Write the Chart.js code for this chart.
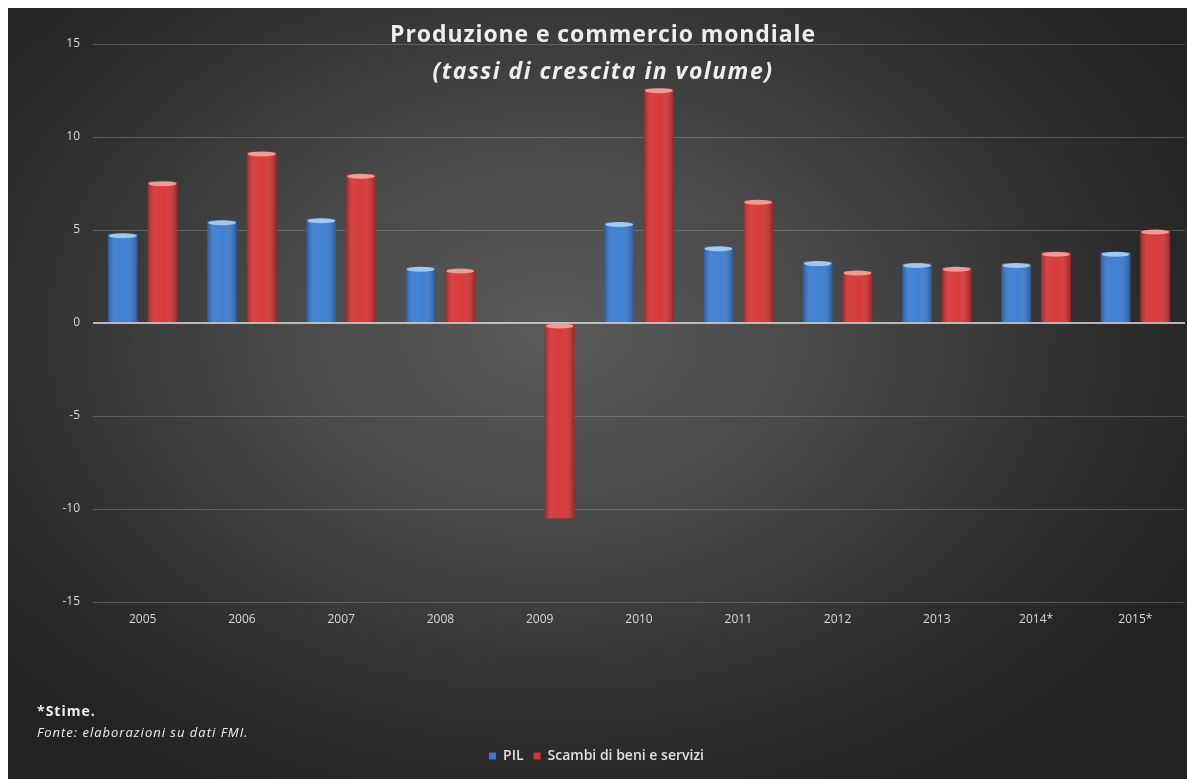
<!DOCTYPE html>
<html lang="it">
<head>
<meta charset="utf-8">
<title>Produzione e commercio mondiale</title>
<script src="https://cdn.jsdelivr.net/npm/chart.js@4"></script>
<style>
    html, body {
        margin: 0;
        padding: 0;
        background: #ffffff;
        width: 1187px;
        height: 779px;
        overflow: hidden;
    }
    #panel {
        position: absolute;
        left: 8px;
        top: 8px;
        width: 1179px;
        height: 771px;
        background: radial-gradient(ellipse 62% 68% at 46% 42%, #5a5a5a 0%, #474747 40%, #2e2e2e 75%, #222222 100%);
    }
    #chart {
        position: absolute;
        left: 0;
        top: 0;
    }
    .title {
        position: absolute;
        left: 0;
        width: 1190px;
        text-align: center;
        color: #eeeeee;
        font-family: "Open Sans", sans-serif;
        font-weight: bold;
        font-size: 23px;
        line-height: 28px;
        letter-spacing: 0.9px;
    }
    .note {
        position: absolute;
        left: 29px;
        color: #eeeeee;
        font-family: "Open Sans", sans-serif;
        font-size: 13px;
        line-height: 16px;
        letter-spacing: 1px;
    }
</style>
</head>
<body>
<div id="panel">
    <canvas id="chart" width="1179" height="771"></canvas>
    <div class="title" style="top: 11px;">Produzione e commercio mondiale</div>
    <div class="title" style="top: 48px; font-style: italic; letter-spacing: 1.5px;">(tassi di crescita in volume)</div>
    <div class="note" style="top: 695px; font-weight: bold; font-size: 14px;">*Stime.</div>
    <div class="note" style="top: 716px; font-style: italic;">Fonte: elaborazioni su dati FMI.</div>
</div>
<script>
// Tassi di crescita annui (%), fonte FMI
const years = ['2005', '2006', '2007', '2008', '2009', '2010', '2011', '2012', '2013', '2014*', '2015*'];
const pil = [4.8, 5.5, 5.6, 3.0, 0.0, 5.4, 4.1, 3.3, 3.2, 3.2, 3.8];
const scambi = [7.6, 9.2, 8.0, 2.9, -10.5, 12.6, 6.6, 2.8, 3.0, 3.8, 5.0];
const yTicks = [-15, -10, -5, 0, 5, 10, 15];

const blue = '#3a7bd0';
const red = '#d63434';
const capColors = { [blue]: '#9ccaf2', [red]: '#f29a94' };

// Shading on the bars: darker sides and a light cap on the top edge
const barShade = {
    id: 'barShade',
    afterDatasetsDraw(chart) {
        const ctx = chart.ctx;
        chart.data.datasets.forEach((ds, i) => {
            const meta = chart.getDatasetMeta(i);
            meta.data.forEach(bar => {
                const { x, y, base, width } = bar.getProps(['x', 'y', 'base', 'width'], true);
                const top = Math.min(y, base);
                const h = Math.abs(base - y);
                if (h < 1) return;
                const left = x - width / 2;

                const g = ctx.createLinearGradient(left, 0, left + width, 0);
                g.addColorStop(0, 'rgba(0,0,0,0.28)');
                g.addColorStop(0.3, 'rgba(255,255,255,0.06)');
                g.addColorStop(0.6, 'rgba(255,255,255,0.04)');
                g.addColorStop(1, 'rgba(0,0,0,0.3)');
                ctx.save();
                ctx.fillStyle = g;
                ctx.fillRect(left, top, width, h);

                ctx.fillStyle = capColors[ds.backgroundColor];
                ctx.beginPath();
                ctx.ellipse(x, top + 2, width / 2 - 1, 2.5, 0, 0, Math.PI * 2);
                ctx.fill();
                ctx.restore();
            });
        });
    }
};

const ctx = document.getElementById('chart').getContext('2d');

new Chart(ctx, {
    type: 'bar',
    data: {
        labels: years,
        datasets: [
            {
                label: 'PIL',
                data: pil,
                backgroundColor: blue,
                borderWidth: 0
            },
            {
                label: 'Scambi di beni e servizi',
                data: scambi,
                backgroundColor: red,
                borderWidth: 0
            }
        ]
    },
    options: {
        responsive: false,
        animation: false,
        layout: {
            padding: { top: 36, right: 2, left: 0, bottom: 6 }
        },
        datasets: {
            bar: {
                categoryPercentage: 0.8,
                barPercentage: 0.75
            }
        },
        scales: {
            x: {
                grid: { display: false },
                border: { display: false },
                ticks: {
                    color: '#d8d8d8',
                    padding: 2,
                    font: { family: 'Open Sans', size: 12 }
                },
                afterFit: scale => { scale.height = 137; }
            },
            y: {
                min: -15,
                max: 15,
                afterBuildTicks: scale => {
                    scale.ticks = yTicks.map(v => ({ value: v }));
                },
                grid: {
                    color: c => c.tick && c.tick.value === 0 ? 'rgba(215,215,215,0.8)' : 'rgba(170,170,170,0.35)',
                    lineWidth: c => c.tick && c.tick.value === 0 ? 2 : 1,
                    tickLength: 3,
                    tickColor: 'rgba(0,0,0,0)'
                },
                border: { display: false },
                ticks: {
                    color: '#d8d8d8',
                    padding: 10,
                    font: { family: 'Open Sans', size: 12 }
                },
                afterFit: scale => { scale.width = 85; }
            }
        },
        plugins: {
            legend: {
                position: 'bottom',
                labels: {
                    color: '#e0e0e0',
                    boxWidth: 7,
                    boxHeight: 7,
                    padding: 10,
                    font: { family: 'Open Sans', size: 14, weight: '600' }
                }
            },
            tooltip: { enabled: false }
        }
    },
    plugins: [barShade]
});
</script>
</body>
</html>
